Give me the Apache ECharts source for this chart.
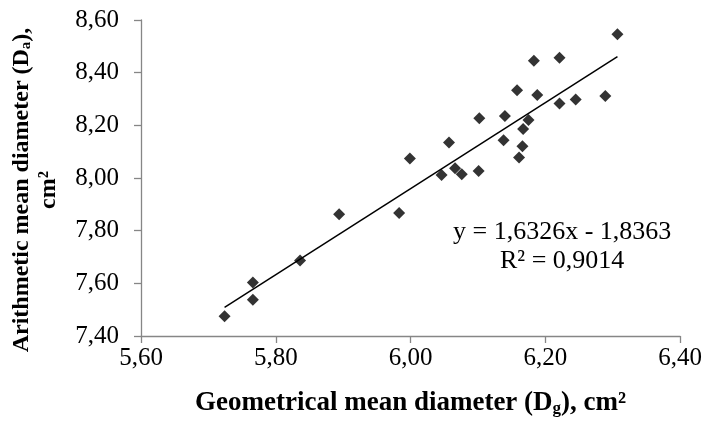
<!DOCTYPE html>
<html>
<head>
<meta charset="utf-8">
<script src="https://cdn.jsdelivr.net/npm/echarts@6/dist/echarts.min.js"></script>
<style>
html,body{margin:0;padding:0;background:#fff;}
#chart{width:705px;height:423px;}
</style>
</head>
<body>
<div id="chart"></div>
<script>
// Data
var xValues = [5.724, 5.766, 5.766, 5.836, 5.894, 5.983, 5.999, 6.046, 6.057, 6.066, 6.076, 6.101, 6.102,
               6.138, 6.140, 6.158, 6.161, 6.166, 6.167, 6.175, 6.183, 6.188, 6.221, 6.221, 6.245, 6.289, 6.307];
var yValues = [7.475, 7.603, 7.538, 7.687, 7.862, 7.867, 8.074, 8.011, 8.135, 8.037, 8.014, 8.027, 8.227,
               8.143, 8.235, 8.333, 8.078, 8.121, 8.186, 8.220, 8.445, 8.315, 8.457, 8.283, 8.298, 8.311, 8.546];
var slope = 1.6326;
var intercept = -1.8363;
var rSquared = 0.9014;
var xTicks = [5.60, 5.80, 6.00, 6.20, 6.40];
var yTicks = [7.40, 7.60, 7.80, 8.00, 8.20, 8.40, 8.60];

var FONT = 'Liberation Serif';
function fmt(v){ return v.toFixed(2).replace('.', ','); }

var points = xValues.map(function(x, i){ return [x, yValues[i]]; });
var xMin = Math.min.apply(null, xValues), xMax = Math.max.apply(null, xValues);
var trend = [[xMin, slope * xMin + intercept], [xMax, slope * xMax + intercept]];

var eqText = 'y = ' + String(slope).replace('.', ',') + 'x - ' + String(Math.abs(intercept)).replace('.', ',') +
             '\nR² = ' + String(rSquared).replace('.', ',');

var chart = echarts.init(document.getElementById('chart'), null, {renderer: 'canvas'});
var axisLine = {lineStyle: {color: '#868686', width: 1.3}};
var xTitleRich = {
  b: {fontFamily: FONT, fontWeight: 'bold', fontSize: 27, color: '#000'},
  s: {fontFamily: FONT, fontWeight: 'bold', fontSize: 17, color: '#000', padding: [11, 0, 0, 0]}
};
var yTitleRich = {
  b: {fontFamily: FONT, fontWeight: 'bold', fontSize: 24, color: '#000'},
  s: {fontFamily: FONT, fontWeight: 'bold', fontSize: 15, color: '#000', padding: [10, 0, 0, 0]}
};
chart.setOption({
  animation: false,
  grid: {left: 135, right: 24, top: 20, bottom: 87, containLabel: false},
  xAxis: {
    type: 'value', min: xTicks[0], max: xTicks[xTicks.length - 1], interval: 0.2,
    splitLine: {show: false},
    axisLine: axisLine,
    axisTick: {show: true, length: 7, lineStyle: {color: '#868686', width: 1.3}},
    axisLabel: {fontFamily: FONT, fontSize: 25, color: '#000', margin: 10, formatter: fmt},
    name: '{b|Geometrical mean diameter (D}{s|g}{b|), cm²}',
    nameLocation: 'middle', nameGap: 53,
    nameTextStyle: {rich: xTitleRich}
  },
  yAxis: {
    type: 'value', min: yTicks[0], max: yTicks[yTicks.length - 1], interval: 0.2,
    splitLine: {show: false},
    axisLine: Object.assign({show: true}, axisLine),
    axisTick: {show: true, length: 7, lineStyle: {color: '#868686', width: 1.3}},
    axisLabel: {fontFamily: FONT, fontSize: 25, color: '#000', margin: 22, formatter: fmt},
    name: '{b|Arithmetic mean diameter (D}{s|a}{b|),}\n{b|cm²}',
    nameLocation: 'middle', nameGap: 79, nameRotate: 90,
    nameTextStyle: {rich: yTitleRich, lineHeight: 27, align: 'center', padding: [0, 24, 0, 0]}
  },
  series: [
    {
      type: 'scatter', data: points, symbol: 'diamond', symbolSize: 12,
      itemStyle: {color: '#000'}, z: 3
    },
    {
      type: 'line', data: trend, symbol: 'none', silent: true,
      lineStyle: {color: '#000', width: 1.5}, z: 2
    }
  ],
  graphic: [{
    type: 'text', left: 453, top: 218,
    style: {text: eqText, font: '26px "Liberation Serif"', fill: '#000', textAlign: 'center', lineHeight: 29, align: 'center'}
  }]
});
</script>
</body>
</html>
